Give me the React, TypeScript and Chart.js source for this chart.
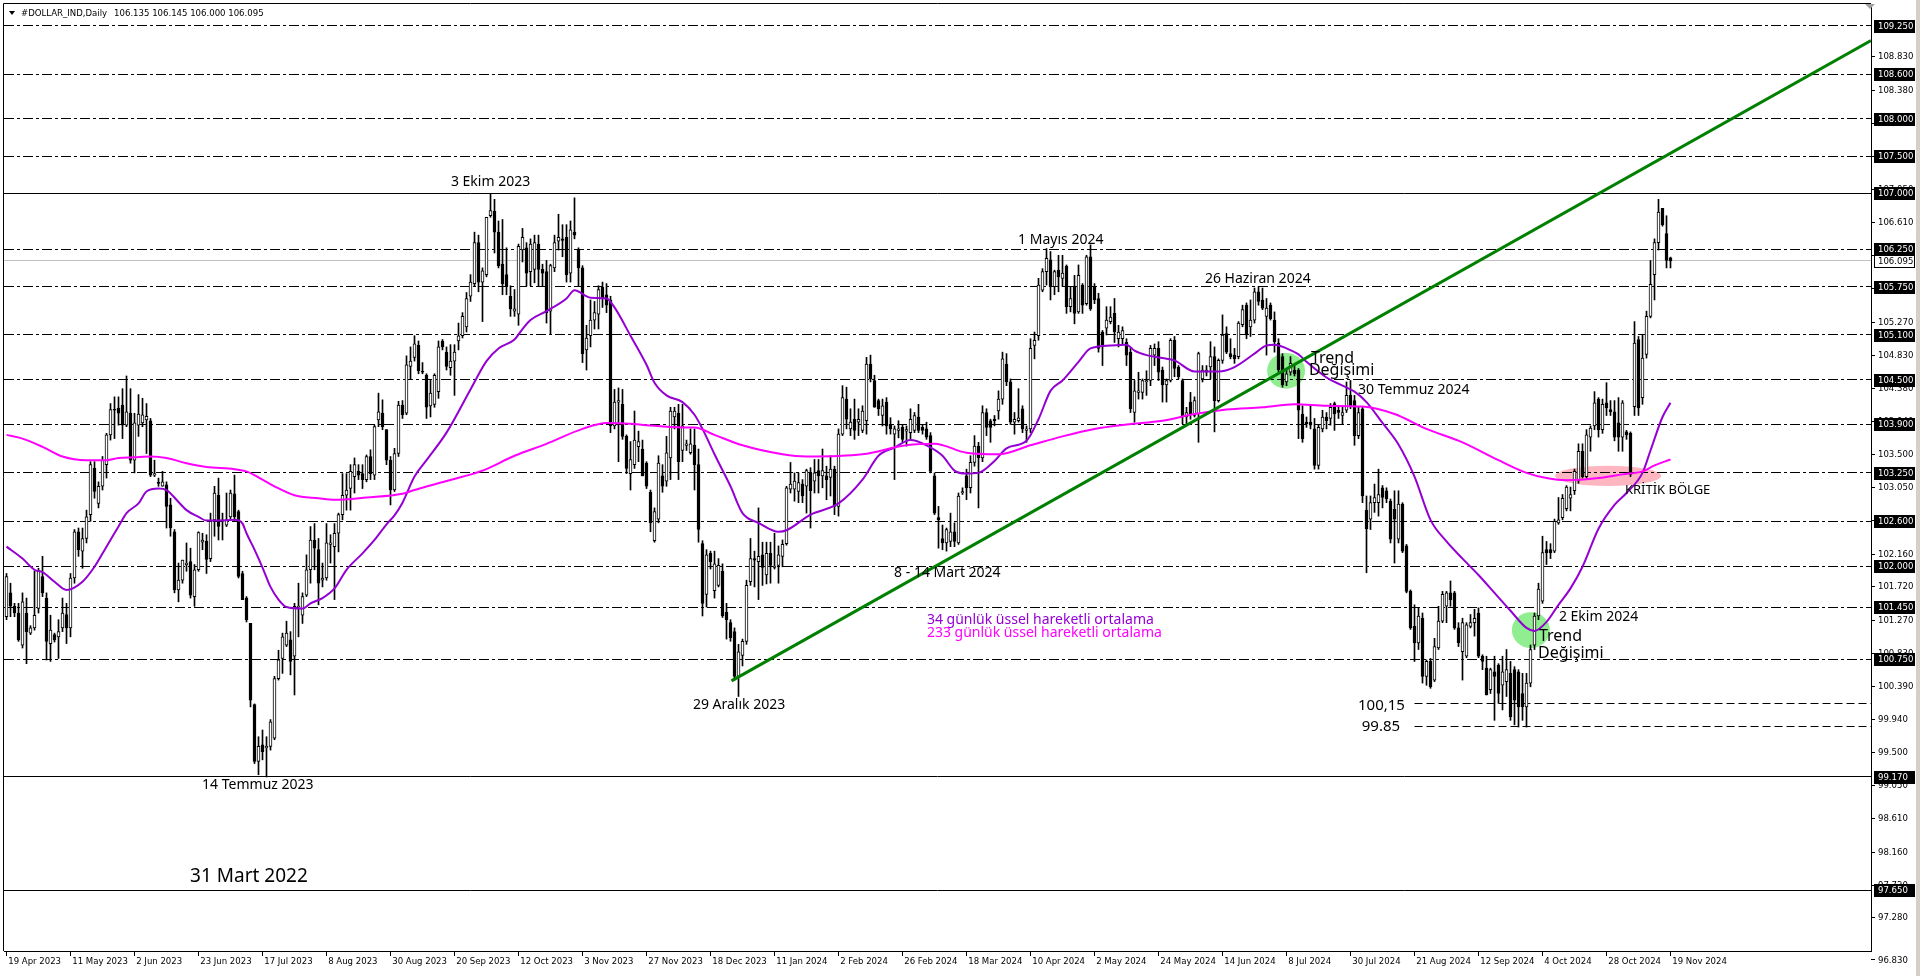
import React, { useEffect, useRef } from 'react';
import { Chart, registerables } from 'chart.js';
Chart.register(...registerables);

// ---------------- DATA ----------------
const opens = [
101.32,101.64,101.46,101.37,100.94,101.37,101.10,101.17,101.43,101.86,
101.57,100.96,101.08,101.05,101.17,101.35,101.17,101.84,102.46,102.20,
102.37,102.69,103.31,102.84,103.07,103.36,103.76,104.10,104.12,104.16,
103.89,104.05,103.42,103.89,103.92,103.96,103.95,103.22,103.11,103.07,
103.09,102.82,102.46,101.68,101.81,102.02,102.06,101.59,101.95,102.32,
102.33,102.10,102.62,102.95,102.60,102.55,102.66,102.97,102.73,101.90,
101.57,101.23,100.14,99.38,99.60,99.56,99.58,99.69,100.49,100.76,
100.94,101.01,100.79,101.45,101.34,101.61,101.95,102.35,102.22,101.81,
101.84,102.29,102.26,102.44,102.69,102.95,103.04,103.20,103.27,103.24,
103.16,103.47,103.22,103.96,104.05,103.83,103.42,103.02,103.51,104.16,
104.05,104.68,104.80,104.96,104.60,104.56,104.15,104.17,104.34,105.02,
104.87,104.66,104.75,105.02,105.09,105.21,105.62,105.79,106.34,105.81,
105.91,106.70,106.76,106.48,106.05,105.91,105.62,105.42,105.38,106.24,
106.27,105.95,105.98,106.32,105.98,105.95,105.42,106.00,106.36,106.39,
106.41,105.93,106.48,106.24,106.00,104.90,105.09,105.30,105.38,105.74,
105.64,105.57,103.88,104.20,104.17,103.74,103.24,103.36,103.60,103.57,
103.38,102.99,102.34,102.63,103.21,103.14,103.45,104.00,104.05,103.55,
103.62,103.52,103.62,103.36,102.30,101.62,102.17,101.67,101.74,101.93,
101.38,101.24,101.12,100.52,100.80,100.99,101.79,102.10,102.06,102.15,
101.88,102.17,101.98,102.01,102.13,102.30,103.03,103.03,103.00,103.10,
103.07,103.25,103.14,103.28,103.21,103.21,103.19,103.30,102.80,103.77,
104.24,103.84,103.97,103.93,103.82,103.95,104.71,104.49,104.22,104.02,
104.20,103.90,103.77,103.82,103.86,103.81,103.79,103.82,104.00,103.86,
103.84,103.75,103.21,102.65,102.37,102.31,102.33,102.46,102.31,102.98,
103.21,103.05,103.39,103.61,103.45,104.06,103.95,103.97,104.08,104.24,
104.71,104.47,103.93,103.95,104.11,103.82,103.84,104.96,105.09,105.70,
105.95,106.11,105.75,105.97,105.86,106.02,105.48,105.75,105.41,105.77,
105.52,106.15,105.75,105.59,105.14,105.19,105.28,105.39,105.05,105.05,
105.00,104.87,104.06,104.33,104.33,104.47,104.49,104.83,104.92,104.63,
104.43,104.49,105.03,104.67,104.49,104.00,104.20,104.02,104.04,104.51,
104.60,104.67,104.81,104.22,104.76,105.12,104.85,104.83,104.81,105.24,
105.50,105.21,105.30,105.68,105.57,105.35,105.50,105.30,104.99,104.81,
104.47,104.60,104.63,104.63,104.04,103.93,103.93,103.84,103.35,103.84,
104.00,103.98,104.18,104.09,104.02,104.09,104.29,104.22,103.75,104.11,
102.75,102.63,102.85,102.85,103.05,103.01,102.87,102.76,102.36,102.83,
102.27,101.66,101.19,100.97,101.30,100.52,100.72,100.47,100.90,101.26,
101.46,101.64,101.64,101.17,100.85,100.79,101.19,101.24,101.37,100.79,
100.63,100.34,100.58,100.67,100.40,100.45,100.56,100.61,100.58,100.29,
100.11,100.43,100.94,101.33,101.53,102.22,102.22,102.20,102.58,102.65,
102.77,102.91,103.01,103.15,103.54,103.20,103.73,103.88,104.24,103.83,
104.19,104.10,104.07,103.92,103.73,103.80,103.78,104.14,105.04,104.26,
104.84,105.35,105.91,106.34,106.80,106.46,106.135];

const highs = [
101.90,101.77,101.50,101.50,101.64,101.57,101.20,101.93,101.97,102.13,
101.64,101.34,101.10,101.28,101.57,101.50,101.90,102.49,102.51,102.51,
102.75,103.40,103.40,103.13,103.47,103.78,104.18,104.27,104.27,104.38,
104.55,104.38,104.05,104.30,104.25,104.18,103.98,103.42,103.18,103.27,
103.13,102.91,102.49,102.04,102.08,102.31,102.24,102.02,102.46,102.44,
102.42,102.71,103.07,103.18,102.71,102.98,103.02,103.22,102.75,101.93,
101.59,101.23,100.15,99.71,99.80,99.71,99.94,100.52,100.87,101.10,
101.26,101.12,101.50,101.77,101.64,102.15,102.53,102.57,102.37,102.04,
102.57,102.42,102.57,102.71,103.24,103.24,103.36,103.45,103.36,103.36,
103.49,103.56,103.89,104.32,104.23,103.83,103.47,103.58,104.21,104.22,
104.82,104.94,105.09,105.02,104.73,104.58,104.49,104.58,105.02,105.04,
104.94,104.97,104.97,105.26,105.40,105.67,105.91,106.48,106.44,106.00,
106.68,106.99,106.92,106.63,106.65,106.27,105.76,105.71,106.32,106.53,
106.34,106.39,106.44,106.44,106.05,106.10,106.05,106.44,106.72,106.58,
106.58,106.63,106.94,106.27,106.03,105.23,105.57,105.55,105.76,105.81,
105.79,105.62,104.37,104.39,104.37,103.76,103.67,104.08,103.81,103.69,
103.40,103.02,102.78,103.48,103.36,103.74,104.13,104.13,104.17,104.17,
103.69,103.84,103.84,103.57,102.34,102.22,102.20,102.20,102.10,102.03,
101.50,101.28,101.17,100.95,101.02,101.81,102.37,102.20,102.78,102.32,
102.32,102.32,102.44,102.27,102.35,103.07,103.39,103.25,103.25,103.16,
103.30,103.32,103.43,103.43,103.57,103.34,103.48,103.34,103.84,104.42,
104.40,104.11,104.24,104.11,104.15,104.80,104.83,104.56,104.24,104.24,
104.26,103.99,103.88,103.95,103.90,103.88,104.11,104.06,104.17,103.90,
103.93,103.79,103.25,102.80,102.55,102.51,102.71,102.58,102.98,103.05,
103.30,103.48,103.75,103.66,104.15,104.11,103.97,104.02,104.35,104.87,
104.85,104.51,104.06,104.38,104.15,103.88,105.05,105.14,105.86,105.99,
106.26,106.22,105.97,106.17,106.17,106.04,105.75,105.90,106.04,105.79,
106.17,106.31,105.79,105.66,105.16,105.48,105.48,105.59,105.23,105.21,
105.05,104.92,104.49,104.60,104.51,104.62,104.96,104.98,105.01,104.67,
104.51,105.05,105.08,104.69,104.51,104.13,104.33,104.27,104.87,104.69,
104.69,105.01,104.94,104.78,105.37,105.21,105.05,104.92,105.28,105.50,
105.53,105.57,105.73,105.75,105.73,105.59,105.53,105.41,105.05,104.85,
104.65,104.81,104.70,104.65,104.15,104.00,104.15,103.98,103.89,104.09,
104.06,104.18,104.20,104.15,104.13,104.47,104.49,104.29,104.13,104.13,
102.94,102.94,103.10,103.30,103.08,103.05,102.90,103.01,103.01,102.85,
102.29,101.68,101.48,101.44,101.37,100.74,100.76,101.03,101.46,101.66,
101.66,101.80,101.66,101.24,101.30,101.24,101.35,101.42,101.44,100.81,
100.79,100.63,100.79,100.69,100.79,100.88,100.72,100.65,100.61,100.56,
100.56,100.94,101.37,101.77,102.40,102.33,102.30,102.63,102.92,102.96,
103.08,103.06,103.30,103.64,103.64,103.83,103.88,104.34,104.26,104.24,
104.46,104.22,104.22,104.26,104.22,103.82,103.80,105.28,105.08,105.11,
105.42,106.10,106.39,106.92,106.80,106.70,106.145];

const lows = [
101.28,101.32,101.32,100.99,100.90,100.69,101.08,101.14,101.37,101.59,
100.74,100.72,100.98,100.76,101.12,100.96,101.05,101.77,102.13,101.97,
102.31,102.60,102.91,102.78,103.02,103.18,103.69,103.71,103.89,103.71,
103.87,103.38,103.25,103.74,103.87,103.51,103.20,103.20,103.07,103.07,
102.51,102.40,101.64,101.52,101.77,101.93,101.57,101.46,101.93,102.22,
101.90,102.06,102.40,102.35,102.35,102.53,102.62,102.60,101.84,101.55,
101.25,100.11,99.35,99.20,99.40,99.17,99.53,99.67,100.47,100.56,
100.92,100.54,100.27,101.05,101.23,101.59,101.77,101.95,101.48,101.72,
101.81,102.04,101.55,102.19,102.62,102.75,102.75,102.98,103.16,103.04,
103.13,103.16,103.16,103.87,103.83,103.36,102.82,103.00,103.47,103.98,
104.03,104.51,104.75,104.58,104.58,103.98,104.00,104.13,104.25,104.90,
104.63,104.56,104.29,104.90,105.06,105.14,105.55,105.76,105.68,105.28,
105.88,106.68,106.20,106.00,105.64,105.64,105.35,105.35,105.23,106.08,
105.76,105.76,105.80,105.76,105.76,105.26,105.11,105.95,106.24,106.15,
105.81,105.81,106.39,105.76,104.73,104.63,104.94,105.18,105.18,105.47,
105.40,103.79,103.84,103.40,103.70,103.24,103.02,103.31,103.40,103.21,
103.04,102.46,102.32,102.58,102.99,103.07,103.16,103.84,103.16,103.40,
103.55,103.50,103.02,102.32,101.33,101.45,101.96,101.57,101.72,101.31,
101.02,100.99,100.47,100.25,100.66,100.95,101.74,101.72,101.55,101.74,
101.76,101.77,101.96,101.77,101.99,102.28,102.98,102.87,102.85,102.85,
102.71,102.51,102.98,102.98,103.05,102.89,102.94,102.69,102.67,103.75,
103.84,103.75,103.70,103.75,103.79,103.77,104.47,104.13,104.02,103.88,
103.77,103.77,103.16,103.72,103.66,103.61,103.70,103.79,103.79,103.77,
103.70,103.25,102.69,102.24,102.22,102.20,102.26,102.26,102.29,102.96,
102.89,102.98,103.34,102.78,103.40,103.75,103.66,103.88,103.97,104.17,
104.42,103.90,103.77,103.93,103.79,103.66,103.79,104.78,105.03,105.68,
105.77,105.57,105.64,105.68,105.75,105.39,105.41,105.25,105.39,105.39,
105.50,105.43,105.52,104.87,104.69,105.10,105.25,105.00,104.94,104.98,
104.69,104.06,103.93,104.24,104.24,104.29,104.42,104.69,104.49,104.20,
104.20,104.47,104.54,104.51,103.91,103.89,103.97,104.00,103.66,104.47,
104.55,104.51,103.80,104.20,104.72,104.85,104.78,104.72,104.78,105.21,
105.05,105.08,105.26,105.50,105.44,104.83,105.30,104.87,104.60,104.40,
104.42,104.56,104.55,103.71,103.66,103.86,103.84,103.30,103.30,103.80,
103.84,103.89,103.82,103.98,103.91,104.06,104.11,103.62,103.71,102.85,
101.91,102.49,102.72,102.67,102.78,102.85,102.31,102.04,102.31,102.18,
101.64,101.15,100.72,100.88,100.43,100.40,100.36,100.45,100.88,101.24,
101.24,101.46,101.15,100.92,100.47,100.77,101.17,101.06,100.77,100.61,
100.27,100.29,99.93,100.16,100.07,100.25,99.93,99.87,99.84,99.93,
99.84,100.38,100.88,101.28,101.50,102.02,102.10,102.18,102.56,102.62,
102.74,102.74,102.96,103.11,103.18,103.18,103.54,103.83,103.73,103.78,
104.02,104.02,103.68,103.54,103.54,103.70,103.20,104.02,104.02,104.17,
104.79,105.33,105.57,106.24,106.56,106.00,106.00];

const closes = [
101.86,101.46,101.37,101.01,101.52,101.12,101.17,101.34,101.93,101.64,
100.99,101.14,101.01,101.12,101.37,101.17,101.84,102.46,102.22,102.37,
102.66,103.36,103.00,103.07,103.42,103.76,104.10,104.09,104.05,103.89,
104.07,103.42,103.92,104.04,104.03,104.01,103.22,103.24,103.11,103.13,
102.80,102.51,101.68,101.81,102.08,102.04,101.61,101.95,102.45,102.35,
102.09,102.60,102.98,102.53,102.62,102.62,102.98,102.66,101.86,101.55,
101.28,100.20,99.38,99.58,99.51,99.58,99.91,100.49,100.74,101.05,
101.10,100.72,101.46,101.46,101.59,101.95,102.35,102.24,101.77,101.84,
102.31,102.31,102.44,102.69,102.95,103.02,103.27,103.36,103.22,103.16,
103.47,103.24,103.87,104.07,103.87,103.42,103.02,103.51,104.16,104.03,
104.70,104.75,104.98,104.62,104.60,104.13,104.32,104.56,104.94,104.94,
104.68,104.75,104.87,105.09,105.35,105.59,105.81,106.34,105.81,105.96,
106.68,106.77,106.48,106.03,105.79,105.76,105.45,105.45,106.29,106.41,
105.93,106.32,106.34,105.98,105.93,105.40,106.03,106.34,106.41,106.37,
105.91,106.51,106.44,106.00,104.85,105.06,105.30,105.40,105.71,105.59,
105.50,103.88,104.20,104.22,103.74,103.31,103.43,103.69,103.67,103.21,
103.07,102.58,102.73,103.38,103.07,103.52,104.08,104.08,103.40,103.88,
103.64,103.64,103.36,102.49,101.50,102.15,102.06,102.03,102.01,101.33,
101.28,101.04,100.52,100.85,100.99,101.74,102.10,102.08,102.13,101.98,
102.17,102.01,102.00,102.15,102.29,103.05,103.10,103.14,103.12,102.94,
103.28,103.01,103.25,103.21,103.28,103.16,103.30,102.80,103.77,104.26,
103.97,103.93,103.82,103.97,104.08,104.71,104.51,104.13,104.11,104.15,
103.88,103.84,103.84,103.84,103.70,103.83,103.97,104.02,103.82,103.82,
103.73,103.27,102.71,102.62,102.31,102.49,102.46,102.33,102.94,103.00,
103.05,103.39,103.61,103.45,104.06,103.86,103.86,103.95,104.24,104.78,
104.47,103.93,103.97,103.99,103.84,103.84,104.92,105.03,105.77,105.95,
106.13,105.75,105.95,105.88,105.93,105.48,105.59,105.39,105.90,105.50,
106.15,105.45,105.57,104.92,104.94,105.30,105.34,105.14,105.14,105.16,
104.83,104.11,104.35,104.35,104.49,104.49,104.92,104.92,104.60,104.43,
104.49,105.03,104.65,104.54,104.00,104.06,104.04,104.22,104.85,104.63,
104.63,104.81,104.22,104.76,105.10,104.87,104.81,104.78,105.26,105.44,
105.10,105.30,105.68,105.55,105.46,105.46,105.32,105.01,104.63,104.43,
104.58,104.72,104.58,104.09,103.71,103.91,103.89,103.35,103.86,104.00,
103.95,104.13,104.04,104.06,104.06,104.29,104.15,103.75,104.06,102.94,
102.50,102.85,102.92,102.96,102.92,102.90,102.36,102.63,102.83,102.20,
101.66,101.17,100.97,101.33,100.52,100.72,100.38,100.92,101.26,101.62,
101.64,101.55,101.17,100.97,101.24,101.21,101.24,101.30,100.79,100.72,
100.27,100.61,100.52,100.29,100.58,100.61,99.98,100.20,100.11,100.11,
100.43,100.88,101.33,101.69,102.18,102.18,102.18,102.60,102.62,102.91,
103.06,102.96,103.27,103.54,103.20,103.76,103.85,104.19,103.83,104.17,
104.12,104.07,103.73,103.73,104.19,103.76,103.23,104.99,104.12,104.79,
105.35,105.78,106.34,106.75,106.58,106.10,106.095];

// 34 and 233 period exponential moving averages as [bar, value]
const ema34 = [
[0,102.26],[4,102.10],[7,101.95],[9,101.92],[12,101.79],[15,101.68],[19,101.79],[22,101.99],[25,102.26],[28,102.53],
[30,102.71],[33,102.84],[35,103.00],[38,103.04],[40,103.02],[43,102.86],[45,102.75],[48,102.66],[50,102.61],[53,102.61],
[57,102.62],[59,102.57],[60,102.44],[62,102.22],[64,101.98],[66,101.72],[68,101.55],[70,101.45],[74,101.43],[76,101.50],
[79,101.57],[82,101.70],[85,101.95],[89,102.17],[92,102.35],[95,102.56],[97,102.68],[99,102.85],[102,103.20],[105,103.42],
[110,103.79],[116,104.37],[120,104.75],[123,104.92],[127,105.04],[129,105.18],[131,105.30],[135,105.42],[140,105.59],[142,105.70],
[146,105.60],[150,105.59],[152,105.47],[156,105.09],[160,104.70],[162,104.46],[165,104.29],[169,104.20],[172,104.03],[174,103.84],
[177,103.50],[181,103.07],[184,102.71],[188,102.58],[193,102.46],[195,102.48],[201,102.69],[208,102.84],[214,103.16],[218,103.48],
[222,103.59],[226,103.69],[230,103.62],[234,103.48],[237,103.28],[240,103.24],[243,103.25],[247,103.41],[250,103.58],[255,103.68],
[258,103.97],[261,104.35],[264,104.49],[268,104.74],[271,104.92],[276,104.96],[280,104.97],[282,104.89],[285,104.83],[289,104.79],
[292,104.76],[297,104.61],[303,104.61],[307,104.67],[312,104.85],[315,104.96],[317,104.97],[320,104.92],[323,104.84],[325,104.74],
[330,104.53],[334,104.42],[337,104.34],[340,104.20],[344,103.92],[348,103.63],[352,103.20],[356,102.62],[360,102.33],[364,102.10],
[368,101.88],[372,101.64],[376,101.40],[380,101.17],[382,101.13],[385,101.25],[388,101.48],[391,101.70],[394,101.99],[398,102.50],
[402,102.82],[405,102.98],[409,103.25],[411,103.55],[414,104.00],[416,104.19]];

const ema233 = [
[0,103.76],[4,103.71],[9,103.60],[14,103.47],[20,103.42],[25,103.42],[28,103.45],[32,103.46],[36,103.47],[40,103.45],
[45,103.38],[50,103.33],[57,103.30],[60,103.27],[64,103.16],[67,103.07],[72,102.95],[78,102.91],[82,102.89],[90,102.92],
[99,102.97],[102,103.02],[110,103.14],[119,103.28],[127,103.48],[135,103.64],[144,103.84],[150,103.92],[156,103.91],[160,103.89],
[169,103.86],[172,103.86],[177,103.76],[184,103.62],[194,103.50],[200,103.47],[214,103.50],[225,103.62],[232,103.64],[240,103.52],
[248,103.50],[256,103.62],[264,103.74],[272,103.84],[280,103.90],[289,103.95],[297,104.04],[305,104.10],[314,104.13],[322,104.17],
[330,104.15],[339,104.14],[347,104.04],[355,103.84],[364,103.66],[373,103.42],[380,103.25],[385,103.18],[390,103.15],[398,103.18],
[404,103.23],[409,103.27],[412,103.35],[416,103.43]];

const trendLine = [[181.25, 100.46], [466.125, 109.05]];

const xTickLabels = ['19 Apr 2023','11 May 2023','2 Jun 2023','23 Jun 2023','17 Jul 2023','8 Aug 2023','30 Aug 2023',
'20 Sep 2023','12 Oct 2023','3 Nov 2023','27 Nov 2023','18 Dec 2023','11 Jan 2024','2 Feb 2024','26 Feb 2024',
'18 Mar 2024','10 Apr 2024','2 May 2024','24 May 2024','14 Jun 2024','8 Jul 2024','30 Jul 2024','21 Aug 2024',
'12 Sep 2024','4 Oct 2024','28 Oct 2024','19 Nov 2024'];
const xTickStep = 16;

const yTickValues = [97.28,97.72,98.16,98.61,99.05,99.50,99.94,100.39,100.83,101.27,101.72,102.16,102.61,
103.05,103.50,103.94,104.38,104.83,105.27,105.72,106.16,106.61,107.05,107.50,107.94,108.38,108.83];
const yBottomLabel = 96.83;

const dashedLevels = [109.25,108.60,108.00,107.50,106.25,105.75,105.10,104.50,103.90,103.25,102.60,102.00,101.45,100.75];
const solidLevels = [107.00,99.17,97.65];
const bidPrice = 106.095;
const supportLevels = [100.15, 99.85];
const supportStart = 352;

const symbolName = '#DOLLAR_IND,Daily';

// ---------------- STYLE / ANNOTATIONS ----------------
const TEXT_FONT = "'Noto Sans', 'Open Sans', sans-serif";
const PURPLE = '#9400D3';
const MAGENTA = '#FF00FF';
const GREEN = '#008000';
let axisFont = { family: "'Liberation Sans Narrow'", size: 11 };
const axisCss = () => `${axisFont.size}px ${axisFont.family}`;

function hasFont(name: string) {
  const c = document.createElement('canvas').getContext('2d') as CanvasRenderingContext2D;
  const s = 'abcdefghijklmnopqrstuvwxyz 0123456789 ABCDEFG';
  for (const base of ['monospace', 'serif']) {
    c.font = `32px ${base}`;
    const w0 = c.measureText(s).width;
    c.font = `32px '${name}', ${base}`;
    const w1 = c.measureText(s).width;
    if (Math.abs(w0 - w1) > 0.5) return true;
  }
  return false;
}

const annotations = [
  { text: '3 Ekim 2023', i: 111.1, v: 107.15 },
  { text: '14 Temmuz 2023', i: 48.9, v: 99.06 },
  { text: '31 Mart 2022', i: 45.9, v: 97.83, size: 19 },
  { text: '1 Mayıs 2024', i: 252.9, v: 106.37 },
  { text: '26 Haziran 2024', i: 299.6, v: 105.85 },
  { text: 'Trend', i: 326.1, v: 104.79, size: 16 },
  { text: 'Değişimi', i: 325.6, v: 104.63, size: 16 },
  { text: '30 Temmuz 2024', i: 337.9, v: 104.36 },
  { text: '8 - 14 Mart 2024', i: 221.9, v: 101.91 },
  { text: '29 Aralık 2023', i: 171.6, v: 100.14 },
  { text: '34 günlük üssel hareketli ortalama', i: 230.1, v: 101.27, color: PURPLE },
  { text: '233 günlük üssel hareketli ortalama', i: 230.1, v: 101.10, color: MAGENTA },
  { text: '100,15', i: 349.6, v: 100.13, size: 15, align: 'right' },
  { text: '99.85', i: 348.4, v: 99.84, size: 15, align: 'right' },
  { text: '2 Ekim 2024', i: 388.1, v: 101.32 },
  { text: 'Trend', i: 383.1, v: 101.05, size: 16 },
  { text: 'Değişimi', i: 382.9, v: 100.83, size: 16 },
  { text: 'KRİTİK BÖLGE', i: 404.6, v: 103.01, size: 13 },
];

const ellipses = [
  { i: 319.9, v: 104.62, ri: 4.75, rv: 0.24, color: '#90EE90' },
  { i: 381.1, v: 101.14, ri: 4.75, rv: 0.24, color: '#90EE90' },
  { i: 400.4, v: 103.21, ri: 13.25, rv: 0.135, color: '#FFB6C1' },
];

const overlayPlugin = {
  id: 'mt4overlay',
  beforeDatasetsDraw(chart: any) {
    const { ctx, chartArea: a, scales } = chart;
    const x = scales.x, y = scales.y;
    ctx.save();
    ctx.beginPath();
    ctx.rect(a.left, a.top, a.right - a.left, a.bottom - a.top);
    ctx.clip();
    for (const e of ellipses) {
      const cx = x.getPixelForValue(e.i), cy = y.getPixelForValue(e.v);
      const rx = Math.abs(x.getPixelForValue(e.i + e.ri) - cx);
      const ry = Math.abs(y.getPixelForValue(e.v + e.rv) - cy);
      ctx.fillStyle = e.color;
      ctx.beginPath();
      ctx.ellipse(cx, cy, rx, ry, 0, 0, Math.PI * 2);
      ctx.fill();
    }
    const hline = (v: number, x0: number, dash: number[], color: string) => {
      const py = Math.round(y.getPixelForValue(v) - 0.5) + 0.5;
      ctx.setLineDash(dash);
      ctx.strokeStyle = color;
      ctx.lineWidth = 1;
      ctx.beginPath();
      ctx.moveTo(x0, py);
      ctx.lineTo(a.right, py);
      ctx.stroke();
    };
    for (const v of dashedLevels) hline(v, a.left, [10, 3, 3, 3], '#000');
    for (const v of solidLevels) hline(v, a.left, [], '#000');
    hline(bidPrice, a.left, [], '#C0C0C0');
    for (const v of supportLevels) hline(v, x.getPixelForValue(supportStart), [8, 4], '#000');
    ctx.restore();
  },
  afterDatasetsDraw(chart: any) {
    const { ctx, scales } = chart;
    const x = scales.x, y = scales.y;
    ctx.save();
    ctx.textBaseline = 'middle';
    for (const t of annotations as any[]) {
      ctx.font = `${t.size || 14}px ${TEXT_FONT}`;
      ctx.fillStyle = t.color || '#000';
      ctx.textAlign = t.align || 'left';
      ctx.fillText(t.text, x.getPixelForValue(t.i), y.getPixelForValue(t.v));
    }
    ctx.restore();
  },
  afterDraw(chart: any) {
    const { ctx, chartArea: a, scales } = chart;
    const y = scales.y;
    ctx.save();
    ctx.strokeStyle = '#000';
    ctx.lineWidth = 1;
    ctx.setLineDash([]);
    ctx.beginPath();
    ctx.moveTo(a.left - 0.5, a.bottom);
    ctx.lineTo(a.left - 0.5, a.top - 0.5);
    ctx.lineTo(a.right, a.top - 0.5);
    ctx.stroke();
    ctx.fillStyle = '#D4D0C8';
    ctx.fillRect(1916, 0, 4, 976);
    ctx.font = axisCss();
    ctx.textBaseline = 'middle';
    ctx.textAlign = 'left';
    ctx.fillStyle = '#000';
    ctx.fillRect(a.right, 959, 4, 1);
    ctx.fillText(yBottomLabel.toFixed(3), a.right + 7, 961);
    const boxes = [...dashedLevels, ...solidLevels];
    for (const v of boxes) {
      const py = Math.round(y.getPixelForValue(v));
      ctx.fillStyle = '#000';
      ctx.fillRect(a.right + 3, py - 6, 41, 13);
      ctx.fillStyle = '#fff';
      ctx.fillText(v.toFixed(3), a.right + 7, py + 0.5);
    }
    const pb = Math.round(y.getPixelForValue(bidPrice));
    ctx.fillStyle = '#fff';
    ctx.fillRect(a.right + 3, pb - 6, 41, 13);
    ctx.strokeStyle = '#000';
    ctx.strokeRect(a.right + 3.5, pb - 5.5, 40, 12);
    ctx.fillStyle = '#000';
    ctx.fillText(bidPrice.toFixed(3), a.right + 7, pb + 0.5);
    const n = closes.length - 1;
    ctx.fillStyle = '#000';
    ctx.beginPath();
    ctx.moveTo(9, 11); ctx.lineTo(15, 11); ctx.lineTo(12, 15); ctx.closePath();
    ctx.fill();
    ctx.fillText(symbolName, 21, 13.5);
    const sw = ctx.measureText(symbolName).width;
    ctx.fillText(`${opens[n].toFixed(3)} ${highs[n].toFixed(3)} ${lows[n].toFixed(3)} ${closes[n].toFixed(3)}`, 21 + sw + 7, 13.5);
    ctx.fillStyle = '#A0A0A0';
    ctx.beginPath();
    ctx.moveTo(1865, 4); ctx.lineTo(1875, 4); ctx.lineTo(1870, 9); ctx.closePath();
    ctx.fill();
    ctx.restore();
  },
};

export default function App() {
  const ref = useRef<HTMLCanvasElement>(null);
  useEffect(() => {
    document.body.style.margin = '0';
    if (hasFont('Liberation Sans Narrow')) axisFont = { family: "'Liberation Sans Narrow'", size: 11 };
    else if (hasFont('DejaVu Sans Condensed')) axisFont = { family: "'DejaVu Sans Condensed'", size: 9.5 };
    else axisFont = { family: "'Liberation Sans', sans-serif", size: 9.5 };
    const wicks = highs.map((h, i) => ({ x: i, y: [lows[i], h] }));
    const bodies = opens.map((o, i) => ({ x: i, y: [o, closes[i]] }));
    const bodyColors = opens.map((o, i) => (closes[i] > o ? '#ffffff' : '#000000'));
    const chart = new Chart(ref.current as HTMLCanvasElement, {
      type: 'bar',
      data: {
        datasets: [
          { type: 'line', data: trendLine.map(([x, v]) => ({ x, y: v })), borderColor: GREEN, borderWidth: 3,
            pointRadius: 0, order: 0 } as any,
          { type: 'line', data: ema233.map(([x, v]) => ({ x, y: v })), borderColor: MAGENTA, borderWidth: 2,
            pointRadius: 0, cubicInterpolationMode: 'monotone', order: 1 } as any,
          { type: 'line', data: ema34.map(([x, v]) => ({ x, y: v })), borderColor: PURPLE, borderWidth: 2,
            pointRadius: 0, cubicInterpolationMode: 'monotone', order: 2 } as any,
          { type: 'bar', data: bodies as any, backgroundColor: bodyColors, borderColor: '#000', borderWidth: 1,
            borderSkipped: false, barThickness: 3, minBarLength: 1, grouped: false, order: 3 } as any,
          { type: 'bar', data: wicks as any, backgroundColor: '#000', borderWidth: 0,
            barThickness: 1, grouped: false, order: 4 } as any,
        ],
      },
      options: {
        responsive: false,
        devicePixelRatio: 1,
        animation: false,
        events: [],
        layout: { padding: { left: 4, top: 4, right: 0, bottom: 0 } },
        plugins: { legend: { display: false }, tooltip: { enabled: false } },
        scales: {
          x: {
            type: 'linear',
            offset: false,
            min: -0.625,
            max: 466.125,
            afterBuildTicks: (s: any) => { s.ticks = xTickLabels.map((_, k) => ({ value: k * xTickStep })); },
            afterFit: (s: any) => { s.height = 25; s.paddingLeft = 0; s.paddingRight = 0; },
            ticks: {
              autoSkip: false, maxRotation: 0, minRotation: 0, align: 'start', padding: 0,
              color: '#000', font: { family: axisFont.family, size: axisFont.size },
              callback: (v: any) => '\u2009' + (xTickLabels[Math.round(Number(v) / xTickStep)] || ''),
            },
            grid: { offset: false, drawOnChartArea: false, drawTicks: true, tickLength: 5, color: '#000' },
            border: { display: true, color: '#000', width: 1 },
          },
          y: {
            type: 'linear',
            position: 'right',
            min: 96.835,
            max: 109.541,
            afterBuildTicks: (s: any) => { s.ticks = yTickValues.map((v) => ({ value: v })); },
            afterFit: (s: any) => { s.width = 49; s.paddingTop = 0; s.paddingBottom = 0; },
            ticks: {
              autoSkip: false, padding: 3, color: '#000', font: { family: axisFont.family, size: axisFont.size },
              callback: (v: any) => Number(v).toFixed(3),
            },
            grid: { drawOnChartArea: false, drawTicks: true, tickLength: 4, color: '#000' },
            border: { display: true, color: '#000', width: 1 },
          },
        },
      } as any,
      plugins: [overlayPlugin],
    });
    return () => chart.destroy();
  }, []);
  return (
    <div style={{ width: 1920, height: 976, background: '#fff' }}>
      <canvas ref={ref} width={1920} height={976} style={{ display: 'block', width: 1920, height: 976 }} />
    </div>
  );
}
